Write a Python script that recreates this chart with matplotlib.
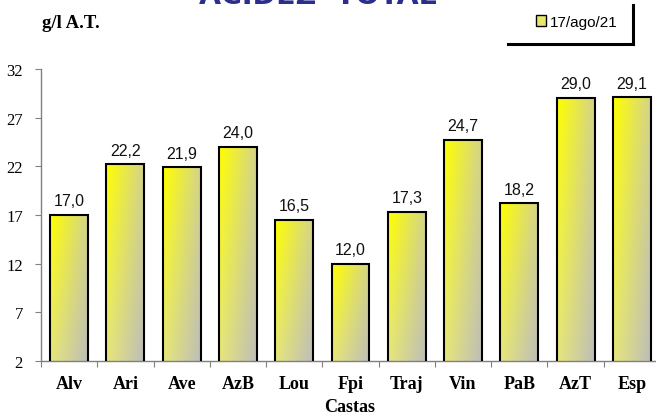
import numpy as np
import matplotlib
matplotlib.use("Agg")
import matplotlib.pyplot as plt
from matplotlib.patches import Patch
from matplotlib.lines import Line2D

castas = ["Alv", "Ari", "Ave", "AzB", "Lou", "Fpi", "Traj", "Vin", "PaB", "AzT", "Esp"]
acidez = [17.0, 22.2, 21.9, 24.0, 16.5, 12.0, 17.3, 24.7, 18.2, 29.0, 29.1]
yticks = [2, 7, 12, 17, 22, 27, 32]
serie = "17/ago/21"

W, H = 656, 414
fig = plt.figure(figsize=(W / 100, H / 100), dpi=100)
ax = fig.add_axes([41 / W, 52 / H, 619 / W, 292 / H])

ymin, ymax = 2, 32
ax.set_xlim(-0.5, len(castas) - 0.5)
ax.set_ylim(ymin, ymax)

# bar fill: yellow top-left fading to grey bottom-right
tl = np.array([255, 255, 0]) / 255
tr = np.array([212, 212, 138]) / 255
bl = np.array([230, 230, 125]) / 255
br = np.array([190, 190, 184]) / 255
nx, ny = 40, 80
u = np.linspace(0, 1, nx)[None, :, None]
w = np.linspace(0, 1, ny)[:, None, None]   # 0 = top row
grad = (tl * (1 - u) + tr * u) * (1 - w) + (bl * (1 - u) + br * u) * w

bw = 0.675
bars = ax.bar(range(len(castas)), acidez, width=bw, bottom=0,
              facecolor="none", edgecolor="black", linewidth=1.5, zorder=3)
for i, (b, v) in enumerate(zip(bars, acidez)):
    im = ax.imshow(grad, extent=(i - bw / 2, i + bw / 2, ymin, v),
                   aspect="auto", zorder=2, interpolation="bilinear")
    im.set_clip_path(b)
    ax.annotate(f"{v:.1f}".replace(".", ","), (i, v), xytext=(0, 7),
                textcoords="offset points", ha="center", va="baseline",
                family="Liberation Sans", fontsize=11.5, color="#111111")

for s in ["top", "right"]:
    ax.spines[s].set_visible(False)
for s in ["left", "bottom"]:
    ax.spines[s].set_color("#808080")
    ax.spines[s].set_linewidth(1.0)

ax.set_yticks(yticks)
ax.set_yticklabels([str(v) for v in yticks], family="Liberation Serif", fontsize=12)
ax.tick_params(axis="y", direction="out", length=4, color="#808080", pad=9)

ax.set_xticks(np.arange(-0.5, len(castas)), minor=False)
ax.set_xticklabels([])
ax.set_xticks(range(len(castas)), minor=True)
ax.set_xticklabels(castas, minor=True, family="Liberation Serif",
                   fontweight="bold", fontsize=13)
ax.tick_params(axis="x", which="major", direction="out", length=4, color="#808080")
ax.tick_params(axis="x", which="minor", length=0, pad=10)

fig.text(350 / W, 1 - 408 / H, "Castas", ha="center", va="center",
         family="Liberation Serif", fontweight="bold", fontsize=13)
fig.text(42 / W, 1 - 28 / H, "g/l A.T.", ha="left", va="baseline",
         family="Liberation Serif", fontweight="bold", fontsize=13.5)

# title (cut at the top edge)
fig.text(318 / W, 1 - 4 / H, "ACIDEZ  TOTAL", ha="center", va="baseline",
         family="DejaVu Sans", fontweight="bold", fontsize=20.5, color="#2B2E8C")

# legend with shadow-like border
fig.add_artist(Line2D([508 / W, 633 / W], [1 - 45 / H, 1 - 45 / H],
                      color="black", linewidth=2.2, transform=fig.transFigure))
fig.add_artist(Line2D([633 / W, 633 / W], [1 - 6 / H, 1 - 45 / H],
                      color="black", linewidth=2.2, transform=fig.transFigure))
handle = Patch(facecolor="#E8E870", edgecolor="black", linewidth=1.0)
fig.legend([handle], [serie], loc="center left",
           bbox_to_anchor=(528 / W, 1 - 23 / H), frameon=False,
           handlelength=0.7, handleheight=0.7, handletextpad=0.25,
           borderpad=0, prop={"family": "Liberation Sans", "size": 11})

fig.savefig("out.png", dpi=100)
